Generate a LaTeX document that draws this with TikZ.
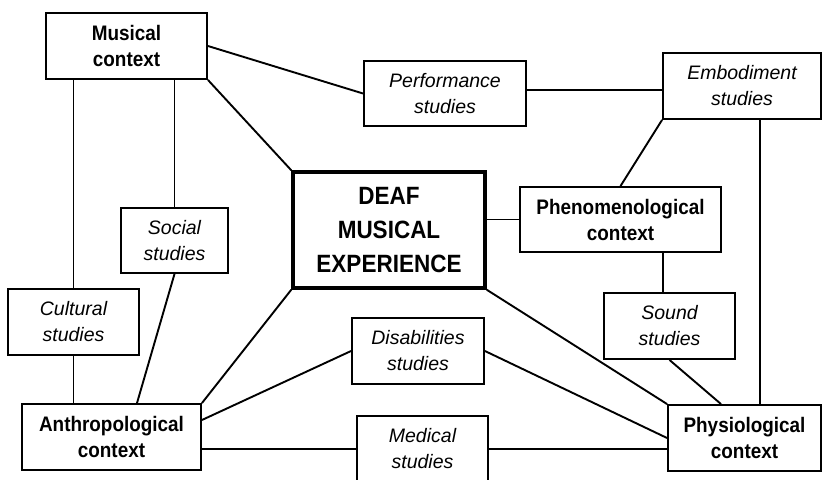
\documentclass[tikz,border=0pt]{standalone}
\usepackage{fontspec}
\setmainfont{Liberation Sans}
\newfontfamily\bcond{Liberation Sans}[FakeStretch=0.9]
\usetikzlibrary{calc}
\begin{document}
\begin{tikzpicture}[x=1pt,y=-1pt,
  box/.style={draw, line width=1.9pt, align=center, inner sep=0pt},
  ctx/.style={box, font=\bcond\bfseries\fontsize{21}{26}\selectfont},
  stud/.style={box, font=\itshape\fontsize{19.5}{26}\selectfont},
  core/.style={draw, line width=3.5pt, align=center, inner sep=0pt, font=\bcond\bfseries\fontsize{25}{34}\selectfont},
  link/.style={line width=1.9pt}]
\useasboundingbox (0,0) rectangle (824,479);
\clip (0,0) rectangle (824,479);
\node[ctx, minimum width=161pt, minimum height=66pt] (mus) at (126.5,46) {Musical\\context};
\node[stud, minimum width=162pt, minimum height=65pt] (perf) at (445,93.5) {Performance\\studies};
\node[stud, minimum width=158pt, minimum height=66pt] (emb) at (742,86) {Embodiment\\studies};
\node[core, minimum width=192pt, minimum height=116pt] (deaf) at (389,230) {DEAF\\MUSICAL\\EXPERIENCE};
\node[ctx, minimum width=201pt, minimum height=65pt] (phen) at (620.5,219.5) {Phenomenological\\context};
\node[stud, minimum width=107pt, minimum height=65pt] (soc) at (174.5,240.5) {Social\\studies};
\node[stud, minimum width=131pt, minimum height=66pt] (cult) at (73.5,322) {Cultural\\studies};
\node[stud, minimum width=131pt, minimum height=66pt] (sound) at (669.5,326) {Sound\\studies};
\node[stud, minimum width=132pt, minimum height=66pt] (dis) at (418,351) {Disabilities\\studies};
\node[ctx, minimum width=179pt, minimum height=66pt] (anth) at (111.5,437) {Anthropological\\context};
\node[stud, minimum width=131pt, minimum height=66pt] (med) at (422.5,449) {Medical\\studies};
\node[ctx, minimum width=153pt, minimum height=66pt] (phys) at (744.5,438) {Physiological\\context};
% connectors
\draw[link] (mus.east) -- (perf.west);
\draw[link] (mus.south east) -- (deaf.north west);
\draw[link] (mus.south -| cult.north) -- (cult.north);
\draw[link] (mus.south -| soc.north) -- (soc.north);
\draw[link] ([yshift=3.5pt]perf.east) -- ([yshift=-4pt]emb.west);
\draw[link] (emb.south west) -- (phen.north);
\coordinate (e1) at ([xshift=18pt]emb.south);
\draw[link] (e1) -- (e1 |- phys.north);
\draw[link] (deaf.east |- phen.west) -- (phen.west);
\coordinate (s1) at ([xshift=-6.5pt]sound.north);
\draw[link] (s1 |- phen.south) -- (s1);
\draw[link] (sound.south) -- ([xshift=-23.5pt]phys.north);
\draw[link] (deaf.south east) -- (phys.north west);
\draw[link] (dis.east) -- (phys.west);
\draw[link] (med.east) -- (med.east -| phys.west);
\draw[link] (anth.east |- med.west) -- (med.west);
\draw[link] (anth.north east) -- (deaf.south west);
\draw[link] ([yshift=17pt]anth.east) -- (dis.west);
\draw[link] (soc.south) -- ([xshift=25.5pt]anth.north);
\draw[link] (cult.south) -- (cult.south |- anth.north);
\end{tikzpicture}
\end{document}
